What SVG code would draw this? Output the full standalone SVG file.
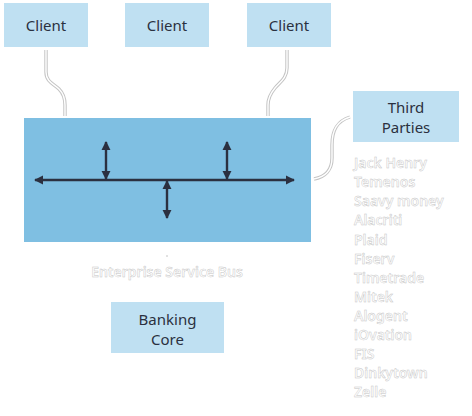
<svg xmlns="http://www.w3.org/2000/svg" width="472" height="416" viewBox="0 0 472 416">
<defs>
<marker id="ah" viewBox="0 0 10 10" refX="9" refY="5" markerWidth="3.8" markerHeight="3.8" orient="auto-start-reverse" markerUnits="strokeWidth">
<path d="M0,0 L10,5 L0,10 Z" fill="#2b3040"/>
</marker>
</defs>
<style>
.box{fill:#bfe0f2}
.bus{fill:#7fbfe2}
.lbl{font-family:"Segoe UI","Noto Sans",sans-serif;font-size:15px;fill:#2b3040;text-anchor:middle}
.ghost{font-family:"Segoe UI","Noto Sans",sans-serif;font-size:14px;font-weight:600;fill:#ffffff;stroke:#c4c4c4;stroke-width:0.45}
.arr{stroke:#2b3040;stroke-width:2.4;fill:none;marker-start:url(#ah);marker-end:url(#ah)}
.cout{fill:none;stroke:#c4c4c4;stroke-width:3.4}
.cin{fill:none;stroke:#ffffff;stroke-width:1.4}
</style>
<g id="connectors">
<path class="cout" d="M46,50 L46,72 C46,82 54,84 59,89 C64,94 65,99 65,105 L65,116"/>
<path class="cin" d="M46,50 L46,72 C46,82 54,84 59,89 C64,94 65,99 65,105 L65,116"/>
<path class="cout" d="M287,50 L287,68 C287,78 280,82 275,88 C270,94 268,99 268,105 L268,116"/>
<path class="cin" d="M287,50 L287,68 C287,78 280,82 275,88 C270,94 268,99 268,105 L268,116"/>
<path class="cout" d="M350,117 C337,121 332,130 332,145 L332,158 C332,170 325,177 314,179"/>
<path class="cin" d="M350,117 C337,121 332,130 332,145 L332,158 C332,170 325,177 314,179"/>
</g>
<g id="client1"><rect class="box" x="4" y="3" width="84" height="44"/><text class="lbl" x="46" y="30.5">Client</text></g>
<g id="client2"><rect class="box" x="125" y="3" width="84" height="44"/><text class="lbl" x="167" y="30.5">Client</text></g>
<g id="client3"><rect class="box" x="247" y="3" width="84" height="44"/><text class="lbl" x="289" y="30.5">Client</text></g>
<g id="esb">
<rect class="bus" x="24" y="118" width="287" height="124"/>
<line class="arr" x1="35" y1="180" x2="294" y2="180"/>
<line class="arr" x1="106" y1="142" x2="106" y2="179"/>
<line class="arr" x1="227" y1="142" x2="227" y2="179"/>
<line class="arr" x1="167" y1="181" x2="167" y2="218"/>
<line x1="166" y1="256" x2="168" y2="256" stroke="#c4c4c4" stroke-width="1"/>
<text class="ghost" x="167" y="277" text-anchor="middle">Enterprise Service Bus</text>
</g>
<g id="third-parties">
<rect class="box" x="353" y="91" width="106" height="51"/>
<text class="lbl" x="406" y="112.5">Third</text>
<text class="lbl" x="406" y="132.5">Parties</text>
<text class="ghost" x="354" y="168">Jack Henry</text>
<text class="ghost" x="354" y="187">Temenos</text>
<text class="ghost" x="354" y="206">Saavy money</text>
<text class="ghost" x="354" y="225">Alacriti</text>
<text class="ghost" x="354" y="244.5">Plaid</text>
<text class="ghost" x="354" y="263.5">Fiserv</text>
<text class="ghost" x="354" y="282.5">Timetrade</text>
<text class="ghost" x="354" y="302">Mitek</text>
<text class="ghost" x="354" y="321">Alogent</text>
<text class="ghost" x="354" y="340">iOvation</text>
<text class="ghost" x="354" y="359">FIS</text>
<text class="ghost" x="354" y="378">Dinkytown</text>
<text class="ghost" x="354" y="397">Zelle</text>
</g>
<g id="banking-core">
<rect class="box" x="111" y="302" width="113" height="51"/>
<text class="lbl" x="167.5" y="324.5">Banking</text>
<text class="lbl" x="167.5" y="344.5">Core</text>
</g>
</svg>
